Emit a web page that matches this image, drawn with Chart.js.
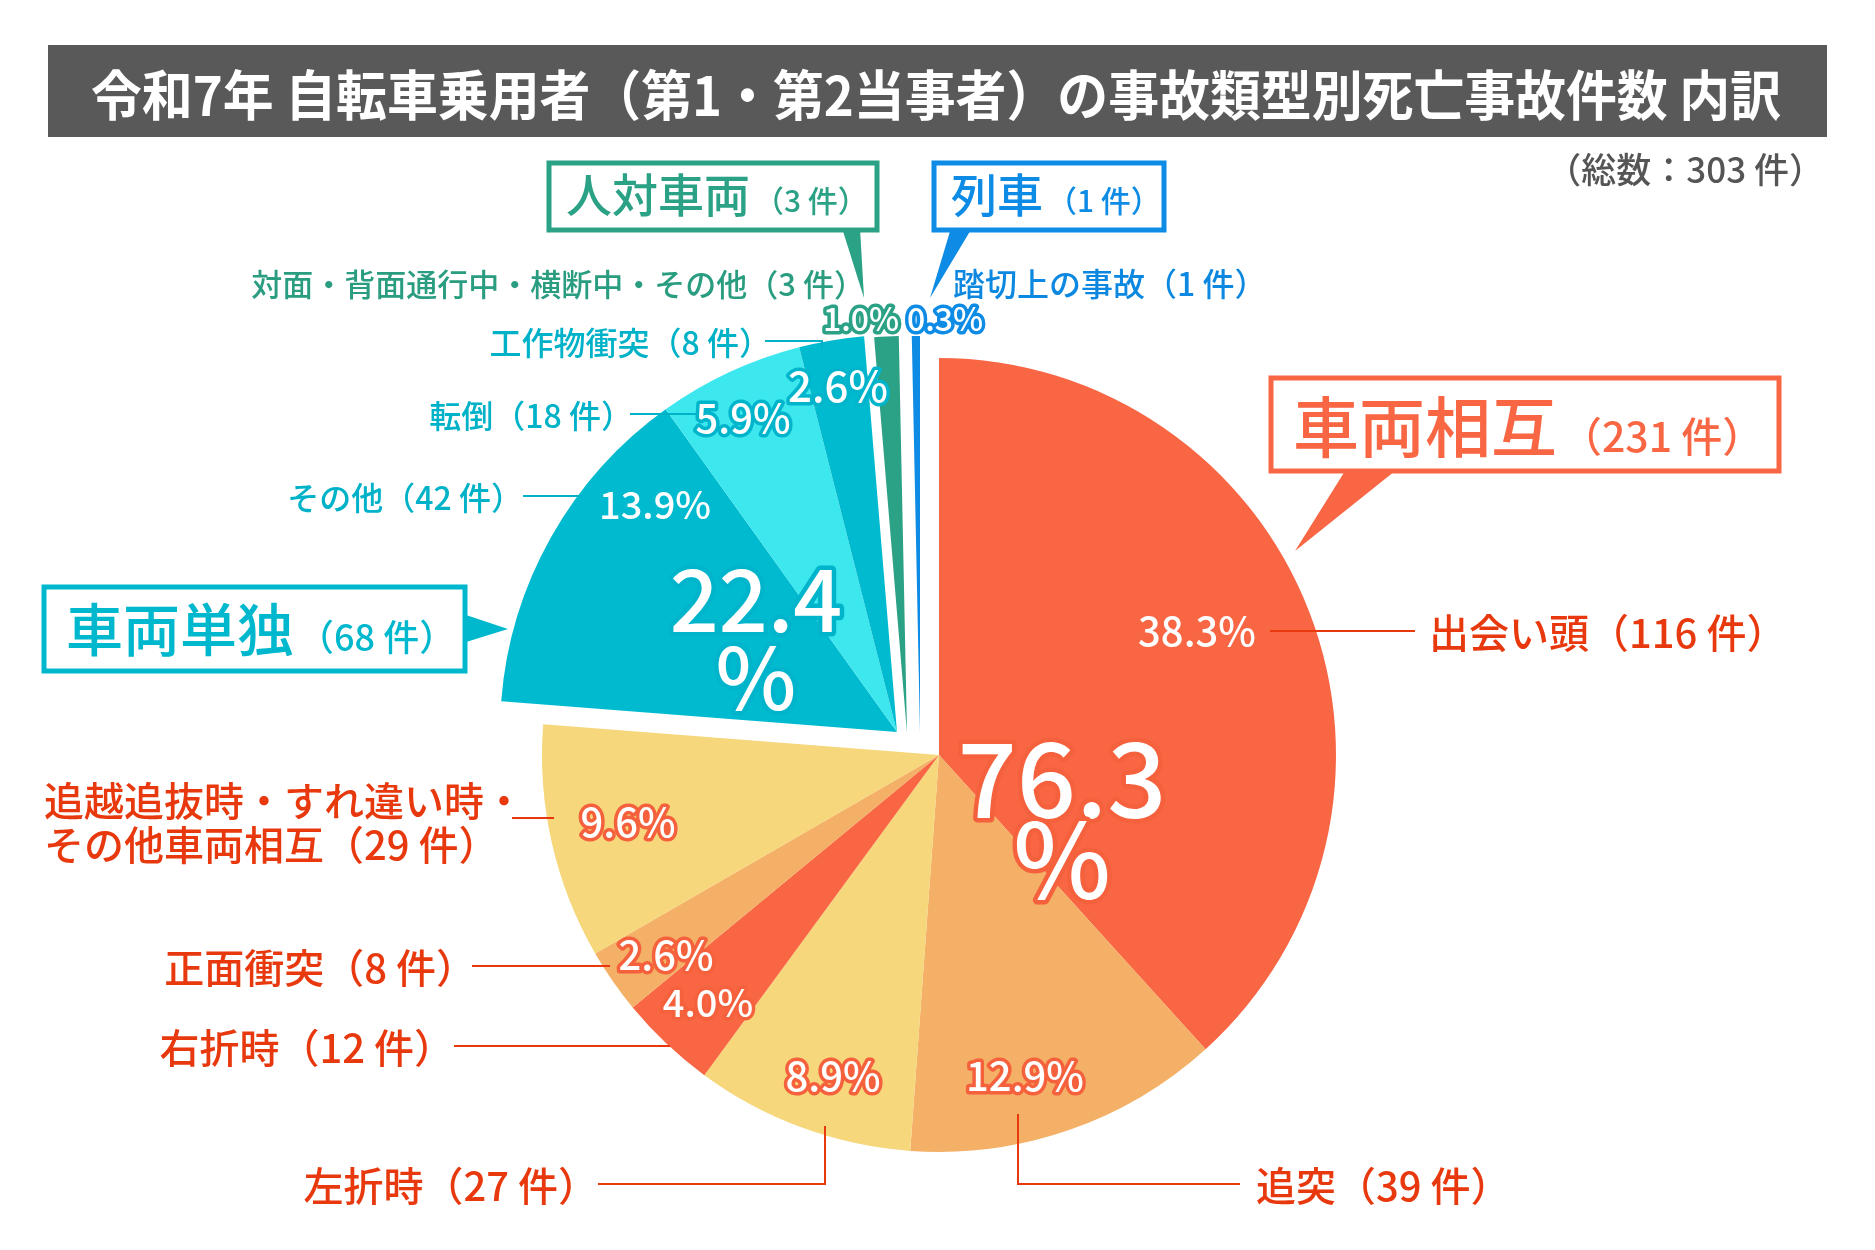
<!DOCTYPE html>
<html><head><meta charset="utf-8">
<script src="https://cdn.jsdelivr.net/npm/chart.js@4/dist/chart.umd.min.js"></script>
<style>
html,body{margin:0;padding:0;background:#fff;}
#wrap{position:relative;width:1875px;height:1250px;overflow:hidden;background:#fff;}
#chartBox{position:absolute;left:0;top:0;width:1875px;height:1250px;}
#ov{position:absolute;left:0;top:0;pointer-events:none;}
svg text{font-family:"Noto Sans CJK JP","Noto Sans",sans-serif;}
</style></head>
<body>
<div id="wrap"><div id="chartBox"><canvas id="c"></canvas></div>
<svg id="ov" width="1875" height="1250" xmlns="http://www.w3.org/2000/svg"></svg></div>
<script>
// ---------- data ----------
const titleText = '令和7年 自転車乗用者（第1・第2当事者）の事故類型別死亡事故件数 内訳';
const unit = '件';
const categories = ['出会い頭','追突','左折時','右折時','正面衝突','追越追抜時・すれ違い時・その他車両相互','その他','転倒','工作物衝突','対面・背面通行中・横断中・その他','踏切上の事故'];
const counts = [116, 39, 27, 12, 8, 29, 42, 18, 8, 3, 1];
const groupIndex = [0, 0, 0, 0, 0, 0, 1, 1, 1, 2, 3];
const groupNames = ['車両相互', '車両単独', '人対車両', '列車'];

// ---------- styles ----------
const sliceColors = ['#F86644','#F4B066','#F6D77B','#F86644','#F4B066','#F6D77B','#00BACF','#3DE7EE','#00BACF','#2BA185','#0D8BE5'];
const groupColors = ['#F86644','#00B8CD','#2BA185','#0D8BE5'];
const groupTextColors = ['#E8380D','#00B2C8','#2A9D80','#0D88E0'];
const GROUP_SHIFT = [[0,0],[-42,-23],[-32,-22],[-19,-22]];

const total = counts.reduce((a,b)=>a+b,0);
const pcts = counts.map(v => +(v/total*100).toFixed(1));
const groupPct = groupNames.map((g,gi)=> pcts.reduce((s,p,i)=> groupIndex[i]===gi ? s+p : s, 0));
const groupCount = groupNames.map((g,gi)=> counts.reduce((s,c,i)=> groupIndex[i]===gi ? s+c : s, 0));

// ---------- chart ----------
const groupExplode = {
  id: 'groupExplode',
  afterDatasetUpdate(chart, args) {
    const meta = chart.getDatasetMeta(args.index);
    meta.data.forEach((arc, i) => {
      const s = GROUP_SHIFT[groupIndex[i]];
      arc.x += s[0]; arc.y += s[1];
    });
  }
};

new Chart(document.getElementById('c'), {
  type: 'pie',
  data: { labels: categories, datasets: [{ data: counts, backgroundColor: sliceColors, borderWidth: 0, radius: 397 }] },
  options: {
    responsive: true, maintainAspectRatio: false, animation: false, events: [],
    layout: { padding: { left: 3, right: 0, top: 260, bottom: 0 } },
    plugins: { legend: { display: false }, tooltip: { enabled: false }, title: { display: false } }
  },
  plugins: [groupExplode]
});

// ---------- annotations (SVG overlay) ----------
const NS = 'http://www.w3.org/2000/svg';
const svg = document.getElementById('ov');
function el(tag, attrs, text, parent) {
  const e = document.createElementNS(NS, tag);
  for (const k in attrs) e.setAttribute(k, attrs[k]);
  if (text != null) e.textContent = text;
  (parent || svg).appendChild(e);
  return e;
}

// title
el('rect', {x:48, y:45, width:1779, height:92, fill:'#595959'});
el('text', {x:936, y:92, 'text-anchor':'middle', 'dominant-baseline':'central', 'font-size':54, 'font-weight':700, fill:'#fff', textLength:1690, lengthAdjust:'spacingAndGlyphs'}, titleText);
el('text', {x:1824, y:167, 'text-anchor':'end', 'dominant-baseline':'central', 'font-size':35, 'font-weight':500, fill:'#555'}, `（総数：${total} ${unit}）`);

// callout boxes
const BOXES = [
  {g:0, rect:[1271,378,508,93], tail:[[1345,471],[1395,471],[1295,551]], tx:1293, ty:452, big:66, small:41},
  {g:1, rect:[44,587,421,84], tail:[[463,614],[463,643],[508,629]], tx:66, ty:651, big:57, small:36},
  {g:2, rect:[549,163,328,67], tail:[[842,228],[860,228],[864,298]], tx:566, ty:212, big:46, small:30},
  {g:3, rect:[934,163,230,67], tail:[[951,228],[972,228],[930,298]], tx:951, ty:212, big:46, small:30}
];
BOXES.forEach(b => {
  const c = groupColors[b.g];
  el('polygon', {points: b.tail.map(p=>p.join(',')).join(' '), fill:c});
  el('rect', {x:b.rect[0], y:b.rect[1], width:b.rect[2], height:b.rect[3], fill:'#fff', stroke:c, 'stroke-width':5});
  const t = el('text', {x:b.tx, y:b.ty, fill:c, 'font-weight':500});
  el('tspan', {'font-size':b.big}, groupNames[b.g], t);
  el('tspan', {'font-size':b.small, dx:4}, `（${groupCount[b.g]} ${unit}）`, t);
});

// per-category labels, leader lines and percentages
const OUT_RED = '#F5603D', OUT_CYAN = '#00B5CB';
const LAYOUT = [
  {t:[1429,631,'start'], fs:40, p:[1197,629,40,null],     line:[[1270,631],[1415,631]]},
  {t:[1256,1184,'start'], fs:40, p:[1025,1074,40,OUT_RED], line:[[1018,1114],[1018,1184],[1240,1184]]},
  {t:[598,1184,'end'],   fs:40, p:[833,1074,40,OUT_RED],  line:[[825,1126],[825,1184],[598,1184]]},
  {t:[454,1046,'end'],   fs:40, p:[708,1000,38,OUT_RED],  line:[[454,1046],[670,1046]]},
  {t:[476,966,'end'],    fs:40, p:[666,953,40,OUT_RED],   line:[[472,966],[610,966]]},
  {t:[44,799,'start'], t2:[44,843], split:12, fs:40, p:[628,820,40,OUT_RED], line:[[512,818],[554,818]]},
  {t:[523,496,'end'],    fs:32, p:[655,502,38,null],      line:[[523,496],[582,496]]},
  {t:[633,414,'end'],    fs:32, p:[743,416,40,OUT_CYAN],  line:[[630,414],[697,414]]},
  {t:[771,341,'end'],    fs:32, p:[838,383,42,OUT_CYAN],  line:[[765,341],[822,341],[822,350]]},
  {t:[865,282,'end'],    fs:31, p:[861,317,32,'#2BA185'], line:null},
  {t:[953,282,'start'],  fs:32, p:[945,317,32,'#0D8BE5'], line:null}
];

LAYOUT.forEach((L, i) => {
  const col = groupTextColors[groupIndex[i]];
  if (L.line) el('polyline', {points: L.line.map(p=>p.join(',')).join(' '), fill:'none', stroke:col, 'stroke-width':2});
  const label = `${categories[i]}（${counts[i]} ${unit}）`;
  const base = {'text-anchor':L.t[2], 'dominant-baseline':'central', 'font-size':L.fs, 'font-weight':500, fill:col};
  if (L.split) {
    el('text', Object.assign({x:L.t[0], y:L.t[1]}, base), label.slice(0, L.split));
    el('text', Object.assign({x:L.t2[0], y:L.t2[1]}, base), label.slice(L.split));
  } else {
    el('text', Object.assign({x:L.t[0], y:L.t[1]}, base), label);
  }
  const a = {x:L.p[0], y:L.p[1], 'text-anchor':'middle', 'dominant-baseline':'central', 'font-size':L.p[2], 'font-weight':500, fill:'#fff'};
  if (L.p[3]) Object.assign(a, {stroke:L.p[3], 'stroke-width':7, 'stroke-linejoin':'round', 'paint-order':'stroke fill'});
  el('text', a, pcts[i].toFixed(1) + '%');
});

// group totals (big)
const BIG = [
  {g:0, x:1062, y1:772, y2:853, fs:104, out:OUT_RED},
  {g:1, x:756, y1:594, y2:672, fs:86, out:OUT_CYAN}
];
BIG.forEach(B => {
  const common = {'text-anchor':'middle', 'dominant-baseline':'central', 'font-size':B.fs, 'font-weight':500, fill:'#fff', stroke:B.out, 'stroke-width':9, 'stroke-linejoin':'round', 'paint-order':'stroke fill'};
  el('text', Object.assign({x:B.x, y:B.y1}, common), groupPct[B.g].toFixed(1));
  el('text', Object.assign({x:B.x, y:B.y2}, common), '%');
});
</script>
</body></html>
